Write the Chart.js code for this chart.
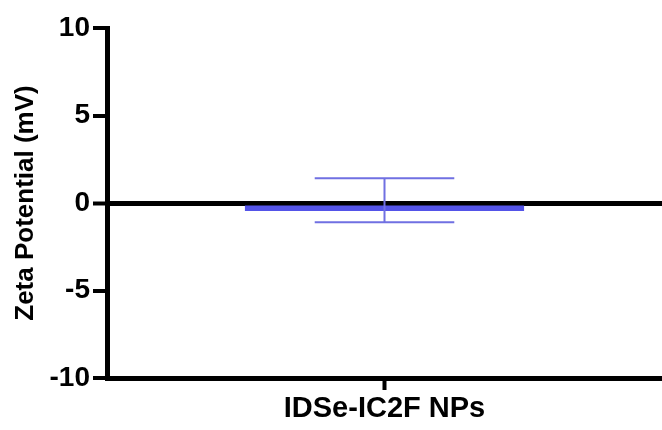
<!DOCTYPE html>
<html>
<head>
<meta charset="utf-8">
<script src="https://cdn.jsdelivr.net/npm/chart.js@4.4.0/dist/chart.umd.min.js"></script>
<style>
  html, body { margin: 0; padding: 0; background: #fff; }
</style>
</head>
<body>
<canvas id="myChart" width="662" height="430"></canvas>
<script>
const labels = ["IDSe-IC2F NPs"]
const meanValues = [-0.45]
const errLow = [-1.1]
const errHigh = [1.42]
const yTicks = [-10, -5, 0, 5, 10]

const barColor = "rgb(84, 84, 232)"
const errColor = "rgb(112, 112, 226)"
const fontFamily = "Liberation Sans, Arial, sans-serif"

// error bars drawn on top of everything, using the bar elements and y scale
const errorBars = {
  id: "errorBars",
  afterDraw(chart) {
    const ctx = chart.ctx
    const y = chart.scales.y
    const meta = chart.getDatasetMeta(0)
    meta.data.forEach((bar, i) => {
      const x = bar.x
      const half = bar.width * 0.25
      const top = y.getPixelForValue(errHigh[i])
      const bottom = y.getPixelForValue(errLow[i])
      ctx.save()
      ctx.strokeStyle = errColor
      ctx.lineWidth = 2
      ctx.beginPath()
      ctx.moveTo(x, top); ctx.lineTo(x, bottom)
      ctx.moveTo(x - half, top); ctx.lineTo(x + half, top)
      ctx.moveTo(x - half, bottom); ctx.lineTo(x + half, bottom)
      ctx.stroke()
      ctx.restore()
    })
  }
}

const ctx = document.getElementById("myChart").getContext("2d")
const myChart = new Chart(ctx, {
  type: "bar",
  data: {
    labels: labels,
    datasets: [{
      data: meanValues,
      backgroundColor: barColor,
      borderWidth: 0,
      categoryPercentage: 1,
      barPercentage: 0.503
    }]
  },
  options: {
    responsive: false,
    animation: false,
    maintainAspectRatio: false,
    layout: { padding: { top: 28, right: 0, left: 0, bottom: 0 } },
    plugins: { legend: { display: false }, tooltip: { enabled: false } },
    scales: {
      x: {
        offset: true,
        z: 1,
        border: { display: true, color: "#000", width: 5 },
        grid: { offset: false, drawOnChartArea: false, drawTicks: true, tickLength: 12, tickWidth: 4, tickColor: "#000" },
        ticks: {
          color: "#000",
          padding: 2,
          font: { family: fontFamily, size: 29, weight: "bold" }
        },
        afterFit(scale) { scale.height = 52 }
      },
      y: {
        min: -10,
        max: 10,
        z: 1,
        afterBuildTicks(scale) { scale.ticks = yTicks.map(v => ({ value: v })) },
        border: { display: true, color: "#000", width: 5 },
        grid: {
          drawOnChartArea: true,
          color: c => (c.tick && c.tick.value === 0 ? "#000" : "rgba(0,0,0,0)"),
          lineWidth: c => (c.tick && c.tick.value === 0 ? 5 : 0),
          tickColor: "#000",
          tickWidth: 4,
          tickLength: 14
        },
        ticks: {
          color: "#000",
          padding: 3,
          font: { family: fontFamily, size: 28, weight: "bold" }
        },
        title: {
          display: true,
          text: "Zeta Potential (mV)",
          color: "#000",
          padding: { top: 10, bottom: 0 },
          font: { family: fontFamily, size: 26, weight: "bold" }
        },
        afterFit(scale) { scale.width = 107 }
      }
    }
  },
  plugins: [errorBars]
})
</script>
</body>
</html>
